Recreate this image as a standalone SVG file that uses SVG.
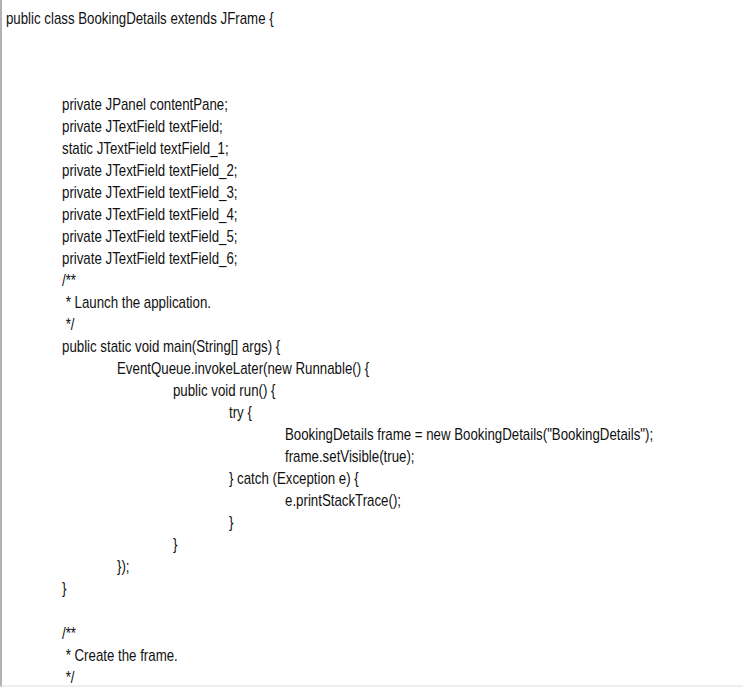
<svg xmlns="http://www.w3.org/2000/svg" width="743" height="687" viewBox="0 0 743 687">
<style>text{font-family:"Liberation Sans",Arial,sans-serif;font-size:16px;fill:#111;white-space:pre}</style>
<rect width="743" height="687" fill="#fff"/>
<line x1="1" y1="0" x2="1" y2="687" stroke="#999" stroke-width="1.5"/>
<line x1="0" y1="686" x2="743" y2="686" stroke="#ddd" stroke-width="1"/>
<g id="code" transform="scale(0.83,1)">
<text x="7.2" y="24">public class BookingDetails extends JFrame {</text>
<text x="74.7" y="110">private JPanel contentPane;</text>
<text x="74.7" y="132">private JTextField textField;</text>
<text x="74.7" y="154">static JTextField textField_1;</text>
<text x="74.7" y="176">private JTextField textField_2;</text>
<text x="74.7" y="198">private JTextField textField_3;</text>
<text x="74.7" y="220">private JTextField textField_4;</text>
<text x="74.7" y="242">private JTextField textField_5;</text>
<text x="74.7" y="264">private JTextField textField_6;</text>
<text x="74.7" y="286">/**</text>
<text x="74.7" y="308"> * Launch the application.</text>
<text x="74.7" y="330"> */</text>
<text x="74.7" y="352">public static void main(String[] args) {</text>
<text x="141" y="374">EventQueue.invokeLater(new Runnable() {</text>
<text x="208.4" y="396">public void run() {</text>
<text x="275.9" y="418">try {</text>
<text x="343.4" y="440">BookingDetails frame = new BookingDetails("BookingDetails");</text>
<text x="343.4" y="462">frame.setVisible(true);</text>
<text x="275.9" y="484">} catch (Exception e) {</text>
<text x="343.4" y="506">e.printStackTrace();</text>
<text x="275.9" y="528">}</text>
<text x="208.4" y="550">}</text>
<text x="141" y="572">});</text>
<text x="74.7" y="594">}</text>
<text x="74.7" y="639">/**</text>
<text x="74.7" y="661"> * Create the frame.</text>
<text x="74.7" y="683"> */</text>
</g>
</svg>
